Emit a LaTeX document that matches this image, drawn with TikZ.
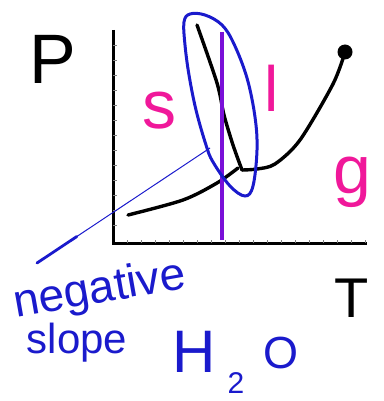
\documentclass[tikz,border=0pt]{standalone}
\usepackage{fontspec}
\setmainfont{Liberation Sans}
\usetikzlibrary{positioning,calc}
\definecolor{inkpink}{HTML}{F0189A}
\definecolor{inkblue}{HTML}{1A1ACC}
\definecolor{inkviolet}{HTML}{7A10D8}

\begin{document}
\begin{tikzpicture}[x=1pt, y=-1pt,
    curve/.style={line width=3.4pt, line cap=round, line join=round},
    phase/.style={text=inkpink, font=\fontsize{68}{68}\selectfont},
    axislabel/.style={font=\fontsize{70}{70}\selectfont},
    note/.style={text=inkblue, font=\fontsize{46}{46}\selectfont}]
    \useasboundingbox (0,0) rectangle (383,401);

    % Axes with small ticks
    \draw[line width=3pt] (113,30) -- (113,243) -- (367,243);
    \foreach \t in {45,60,...,230}
        \draw[gray, thin] (113,\t) -- (116.5,\t);
    \foreach \t in {127,141,...,365}
        \draw[gray, thin] (\t,243) -- (\t,239.5);
    \node[axislabel] (pres) at (53,59) {P};
    \node[axislabel, font=\fontsize{56}{56}\selectfont] (temp) at (352,298) {T};

    % Triple point and critical point
    \coordinate (tp) at (242,170);
    \coordinate (cp) at (345,52);

    % Phase boundaries
    \draw[curve] plot[smooth] coordinates {(197,25) (217,83) (224,115) (233,145) (tp)};
    \draw[curve] plot[smooth] coordinates {(128,215) (183,200) (217,183) (238,168)};
    \draw[curve] plot[smooth] coordinates {(tp) (257,169) (275,164) (300,140) (333,84) (cp)};
    \fill (cp) circle (7.5pt);

    % Constant temperature line
    \draw[inkviolet, line width=3.2pt] (222,32) -- (222,240);

    % Loop round the solid-liquid line
    \draw[inkblue, line width=3pt] plot[smooth cycle, tension=0.6] coordinates
        {(190,14) (205,15) (222,25) (234,44) (247,78) (255,117) (257,150)
         (253,186) (245,196) (230,186) (213,162) (206,145) (196,110)
         (189,75) (185,45) (184,22)};

    % Labels for the phases
    \node[phase] (solid) at (159,111) {s};
    \node[phase, font=\fontsize{64}{64}\selectfont] (liquid) at (272,88) {l};
    \node[phase] (gas) at (352,182) {g};

    % Note with pointer
    \node[note, rotate=10] (neg) at (100,291) {negative};
    \node[note, font=\fontsize{42}{42}\selectfont] (slope) at (77,343) {slope};
    \coordinate (tip) at (210,148);
    \coordinate (tail) at (37,263);
    \draw[inkblue, line width=1pt] (tip) -- (tail);
    \draw[inkblue, line width=2.8pt, line cap=round] ($(tail)!0.23!(tip)$) -- (tail);

    % Substance
    \node[note, anchor=base west, inner sep=0pt, font=\fontsize{60}{60}\selectfont] (water) at (172,372)
        {H\hspace{12pt}\raisebox{-21pt}{\fontsize{30}{30}\selectfont 2}\hspace{19pt}\raisebox{4pt}{\fontsize{45}{45}\selectfont O}};
\end{tikzpicture}
\end{document}
